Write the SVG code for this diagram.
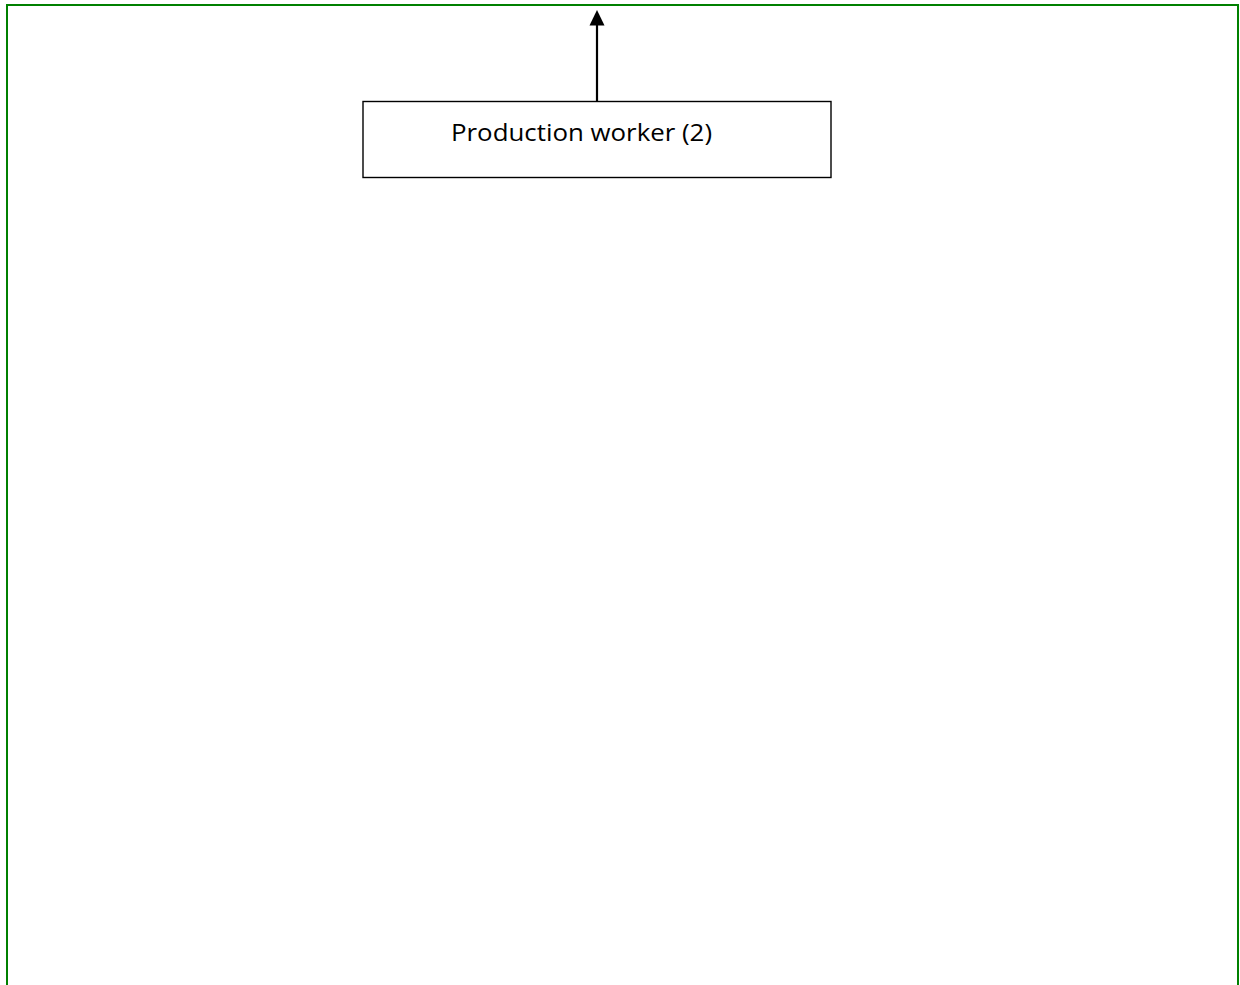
<svg xmlns="http://www.w3.org/2000/svg" width="1240" height="985" viewBox="0 0 1240 985">
<style>
.frame{fill:none;stroke:#008000;stroke-width:2}
.box{fill:#ffffff;stroke:#000000;stroke-width:1.4}
.lbl{font-family:"Open Sans","Liberation Sans",sans-serif;font-size:24px;fill:#000000}
.conn{stroke:#000000;stroke-width:2.2;fill:none}
</style>
<rect width="1240" height="985" fill="#ffffff"/>
<path class="frame" d="M7,986 L7,5 L1238,5 L1238,986"/>
<g id="connectors">
<line class="conn" x1="597" y1="101" x2="597" y2="24"/>
<polygon points="597,10 589.5,25.5 604.5,25.5" fill="#000000"/>
</g>
<g id="node-production-worker">
<rect class="box" x="363" y="101.5" width="468" height="76"/>
<text class="lbl" x="451" y="140.5" textLength="261" lengthAdjust="spacingAndGlyphs">Production worker (2)</text>
</g>
</svg>
